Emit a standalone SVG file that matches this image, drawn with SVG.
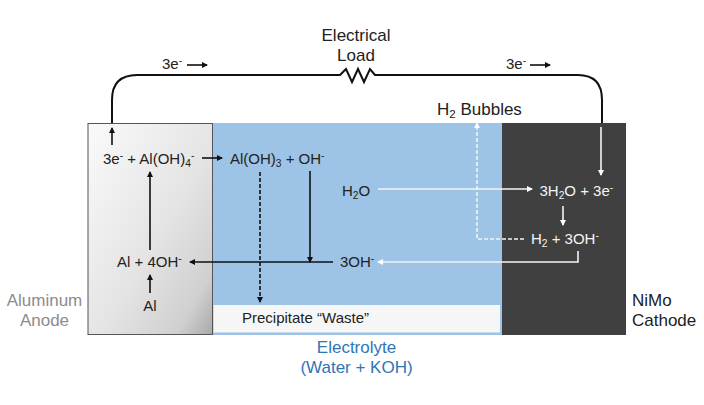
<svg xmlns="http://www.w3.org/2000/svg" width="704" height="405" viewBox="0 0 704 405">
<style>
text{font-family:"Liberation Sans",Arial,sans-serif;font-size:15px;fill:#222}
.w{fill:#f4f4f4}
.big{font-size:17px}
.s{font-size:68%}
.k{fill:none;stroke:#111;stroke-width:1.6}
.h{fill:none;stroke:#111;stroke-width:2}
.l{fill:none;stroke:#f4f4f4;stroke-width:1.6}
</style>
<defs>
<linearGradient id="al" x1="0" y1="0" x2="1" y2="1"><stop offset="0" stop-color="#fafafa"/><stop offset=".55" stop-color="#e4e4e4"/><stop offset=".85" stop-color="#d0d0d0"/><stop offset="1" stop-color="#a9a9a9"/></linearGradient>
<marker id="a" markerWidth="6" markerHeight="6" refX="5" refY="3" orient="auto" markerUnits="userSpaceOnUse" viewBox="0 0 6 6"><path d="M0 0L6 3L0 6z" fill="#111"/></marker>
<marker id="b" markerWidth="6" markerHeight="6" refX="5" refY="3" orient="auto" markerUnits="userSpaceOnUse" viewBox="0 0 6 6"><path d="M0 0L6 3L0 6z" fill="#fff"/></marker>
</defs>
<rect width="704" height="405" fill="#fff"/>
<g id="electrolyte">
<rect x="213" y="123" width="289" height="212" fill="#9dc3e6"/>
<rect x="213.500" y="305" width="286.500" height="27.500" fill="#f6f6f6"/>
<text x="242" y="323">Precipitate “Waste”</text>
<text x="356.500" y="353" text-anchor="middle" class="big" style="fill:#2e75b6">Electrolyte</text>
<text x="356.500" y="373" text-anchor="middle" class="big" style="fill:#2e75b6">(Water + KOH)</text>
</g>
<g id="anode">
<rect x="88" y="123.500" width="124.500" height="211" fill="url(#al)" stroke="#555" stroke-width="1"/>
<text x="44.500" y="306" text-anchor="middle" class="big" style="fill:#8c8c8c">Aluminum</text>
<text x="44.500" y="326" text-anchor="middle" class="big" style="fill:#8c8c8c">Anode</text>
<text x="103" y="164">3e<tspan class="s" dy="-5">-</tspan><tspan dy="5"> + Al(OH)</tspan><tspan class="s" dy="3">4</tspan><tspan class="s" dy="-8">-</tspan></text>
<text x="117" y="267">Al + 4OH<tspan class="s" dy="-5">-</tspan></text>
<text x="150" y="311" text-anchor="middle">Al</text>
</g>
<g id="cathode">
<rect x="502" y="123" width="124" height="212" fill="#404040"/>
<text x="632" y="306" class="big">NiMo</text>
<text x="632" y="326" class="big">Cathode</text>
<text x="539.500" y="196" class="w">3H<tspan class="s" dy="3">2</tspan><tspan dy="-3">O + 3e</tspan><tspan class="s" dy="-5">-</tspan></text>
<text x="531" y="244" class="w">H<tspan class="s" dy="3">2</tspan><tspan dy="-3"> + 3OH</tspan><tspan class="s" dy="-5">-</tspan></text>
</g>
<g id="species">
<text x="230" y="164">Al(OH)<tspan class="s" dy="3">3</tspan><tspan dy="-3"> + OH</tspan><tspan class="s" dy="-5">-</tspan></text>
<text x="342" y="196">H<tspan class="s" dy="3">2</tspan><tspan dy="-3">O</tspan></text>
<text x="340" y="267">3OH<tspan class="s" dy="-5">-</tspan></text>
</g>
<g id="load">
<text x="356" y="41" text-anchor="middle" class="big">Electrical</text>
<text x="356" y="61" text-anchor="middle" class="big">Load</text>
<text x="162" y="69">3e<tspan class="s" dy="-5">-</tspan></text>
<text x="506" y="69">3e<tspan class="s" dy="-5">-</tspan></text>
<text x="437" y="115" class="big">H<tspan class="s" dy="3">2</tspan><tspan dy="-3"> Bubbles</tspan></text>
</g>
<g id="connectors">
<path class="h" d="M112 123V100Q112 75 137 75H340L346 69L352 82L358 69L364 82L370 69L375 75H578Q602 75 602 100V123"/>
<path class="k" marker-end="url(#a)" d="M187 65H207"/>
<path class="k" marker-end="url(#a)" d="M530 65H550"/>
<path class="k" marker-end="url(#a)" d="M112 145V128"/>
<path class="k" marker-end="url(#a)" d="M150 250V172"/>
<path class="k" marker-end="url(#a)" d="M150 293V275"/>
<path class="k" marker-end="url(#a)" d="M202 158H222"/>
<path class="k" marker-end="url(#a)" d="M310 171V262"/>
<path class="k" marker-end="url(#a)" d="M333 262H190"/>
<path class="k" stroke-dasharray="4 2" marker-end="url(#a)" d="M260 172V302"/>
<path class="l" marker-end="url(#b)" d="M378 189H532"/>
<path class="l" marker-end="url(#b)" d="M601 127V175"/>
<path class="l" marker-end="url(#b)" d="M563 206V225"/>
<path class="l" marker-end="url(#b)" d="M578 251V262H378"/>
<path class="l" stroke-dasharray="4 2" marker-end="url(#b)" d="M524 239H477V123"/>
</g>
</svg>
